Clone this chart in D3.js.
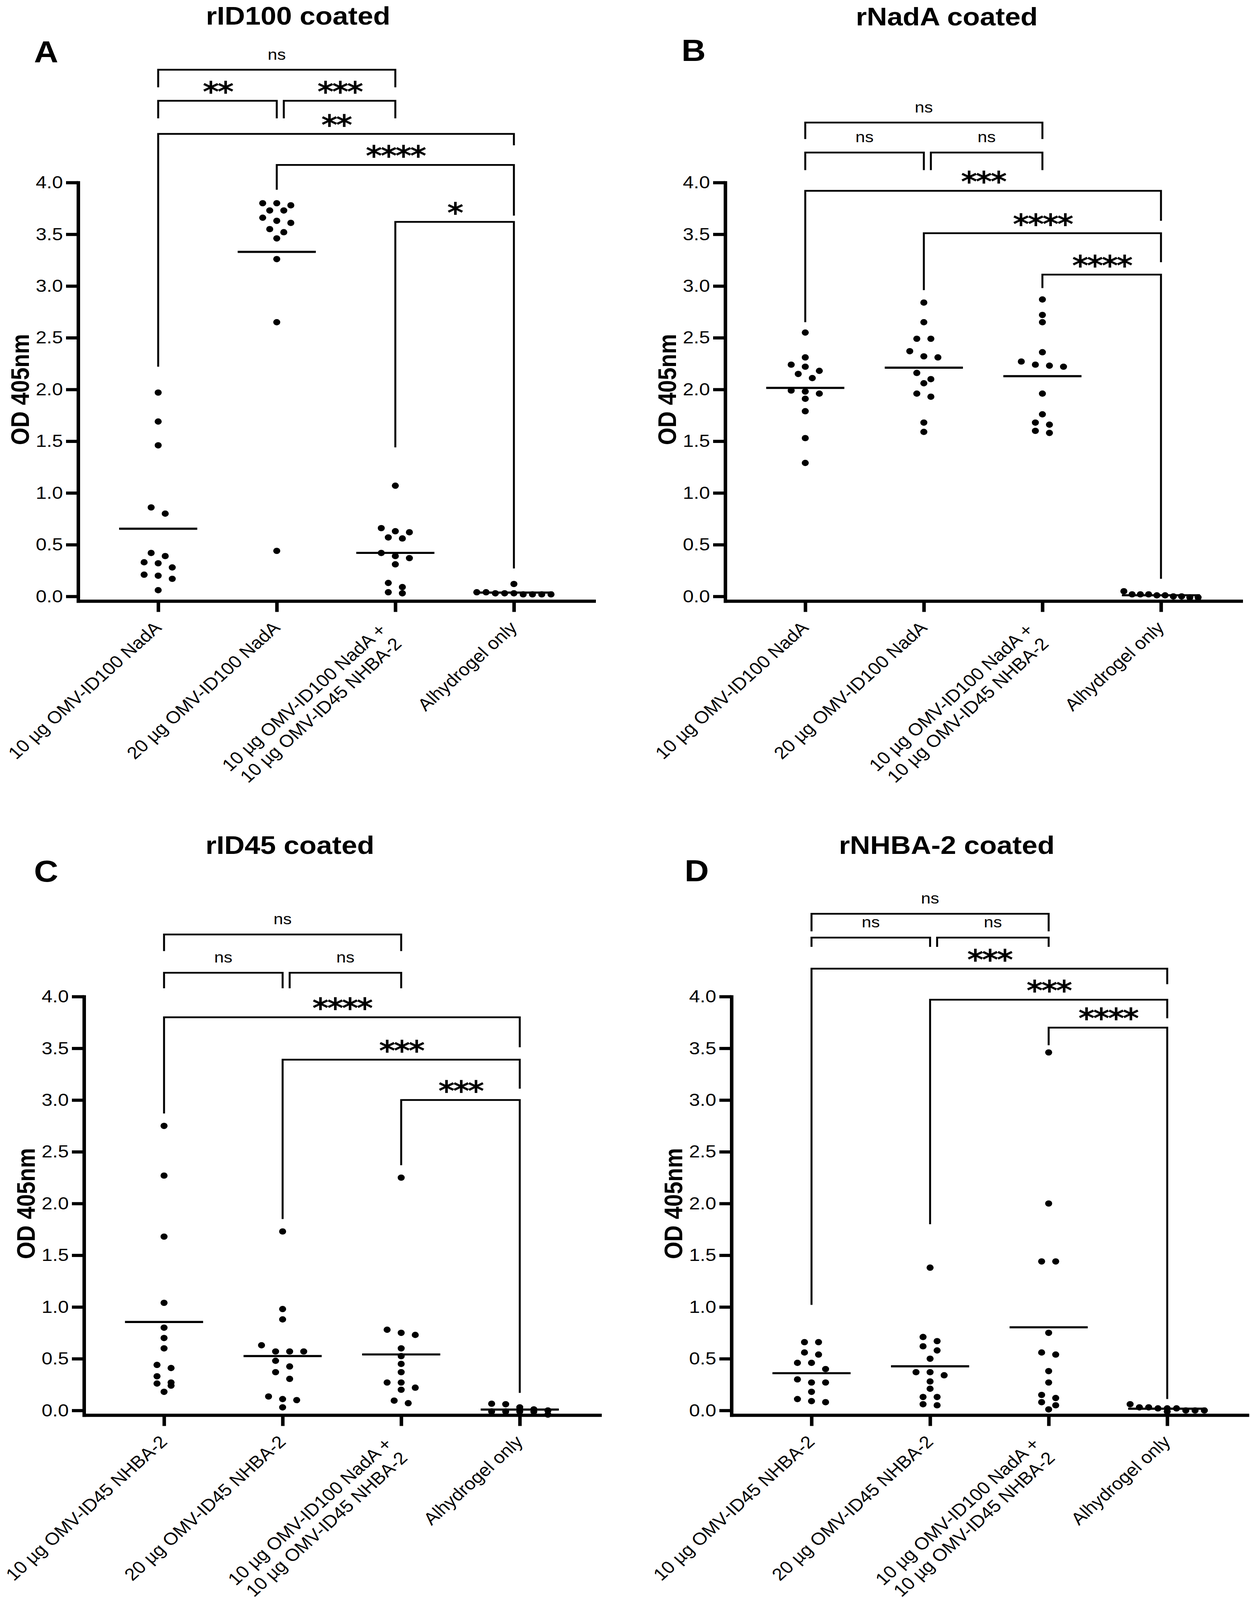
<!DOCTYPE html>
<html>
<head>
<meta charset="utf-8">
<script src="https://cdn.jsdelivr.net/npm/d3@7"></script>
<style>
  html, body { margin: 0; background: #fff; overflow: hidden; }
  svg { display: block; }
  text { font-family: "Liberation Sans", Arial, sans-serif; fill: #000; }
</style>
</head>
<body>
<svg id="chart"></svg>
<script>
// ---- data (OD 405nm) ----
const titles = ["rID100 coated", "rNadA coated", "rID45 coated", "rNHBA-2 coated"];
const letters = ["A", "B", "C", "D"];

const catsNadA = ["10 µg OMV-ID100 NadA", "20 µg OMV-ID100 NadA",
  "10 µg OMV-ID100 NadA +\n10 µg OMV-ID45 NHBA-2", "Alhydrogel only"];
const catsNHBA = ["10 µg OMV-ID45 NHBA-2", "20 µg OMV-ID45 NHBA-2",
  "10 µg OMV-ID100 NadA +\n10 µg OMV-ID45 NHBA-2", "Alhydrogel only"];

const yTicks = [0, 0.5, 1, 1.5, 2, 2.5, 3, 3.5, 4];

// panel A, rID100 coated
const A_g1 = [1.97, 1.69, 1.46, 0.86, 0.80, 0.42, 0.39, 0.33, 0.32, 0.28, 0.21, 0.20, 0.17, 0.06];
const A_g2 = [3.80, 3.80, 3.78, 3.73, 3.73, 3.66, 3.63, 3.61, 3.55, 3.52, 3.46, 3.26, 2.65, 0.44];
const A_g3 = [1.07, 0.66, 0.63, 0.62, 0.57, 0.56, 0.42, 0.39, 0.37, 0.31, 0.13, 0.09, 0.04, 0.03];
const A_g4 = [0.12, 0.04, 0.04, 0.03, 0.03, 0.03, 0.02, 0.02, 0.02, 0.02];

// panel B, rNadA coated
const B_g1 = [2.55, 2.31, 2.24, 2.22, 2.18, 2.15, 2.11, 1.99, 1.98, 1.96, 1.91, 1.79, 1.53, 1.29];
const B_g2 = [2.84, 2.65, 2.49, 2.49, 2.37, 2.32, 2.31, 2.16, 2.10, 2.06, 1.96, 1.93, 1.68, 1.59];
const B_g3 = [2.87, 2.72, 2.65, 2.36, 2.27, 2.24, 2.23, 2.22, 1.96, 1.76, 1.68, 1.66, 1.60, 1.58];
const B_g4 = [0.05, 0.02, 0.02, 0.01, 0.02, 0.01, 0.00, -0.01, 0.00, -0.01];

// panel C, rID45 coated
const C_g1 = [2.75, 2.27, 1.68, 1.04, 0.80, 0.70, 0.60, 0.44, 0.41, 0.33, 0.27, 0.26, 0.24, 0.18];
const C_g2 = [1.73, 0.98, 0.88, 0.63, 0.57, 0.57, 0.57, 0.48, 0.425, 0.37, 0.305, 0.135, 0.11, 0.10, 0.03];
const C_g3 = [2.25, 0.78, 0.75, 0.73, 0.60, 0.525, 0.45, 0.37, 0.27, 0.27, 0.22, 0.20, 0.095, 0.07];
const C_g4 = [0.06, 0.065, 0.03, 0.01, 0.00, -0.01, -0.01, -0.01, -0.01, -0.04];

// panel D, rNHBA-2 coated
const D_g1 = [0.66, 0.66, 0.56, 0.54, 0.46, 0.46, 0.40, 0.30, 0.27, 0.27, 0.18, 0.11, 0.09, 0.08];
const D_g2 = [1.38, 0.71, 0.67, 0.62, 0.58, 0.50, 0.37, 0.37, 0.34, 0.28, 0.21, 0.13, 0.13, 0.06, 0.05];
const D_g3 = [3.46, 2.00, 1.44, 1.44, 0.75, 0.56, 0.54, 0.38, 0.27, 0.15, 0.12, 0.08, 0.05, 0.01];
const D_g4 = [0.06, 0.03, 0.02, 0.02, 0.02, 0.03, 0.00, 0.00, -0.01, 0.00];

// comparisons: [group a, group b, label, bar level, leg end at a, leg end at b] (OD units)
const A_sig = [[0, 2, "ns", 5.09, 4.92, 4.92], [0, 1, "**", 4.79, 4.62, 4.62], [1, 2, "***", 4.79, 4.62, 4.62],
  [0, 3, "**", 4.47, 2.22, 4.36], [1, 3, "****", 4.17, 3.93, 3.68], [2, 3, "*", 3.62, 1.44, 0.27]];
const B_sig = [[0, 2, "ns", 4.58, 4.42, 4.42], [0, 1, "ns", 4.29, 4.12, 4.12], [1, 2, "ns", 4.29, 4.12, 4.12],
  [0, 3, "***", 3.92, 2.65, 3.63], [1, 3, "****", 3.51, 2.96, 3.23], [2, 3, "****", 3.11, 2.98, 0.17]];
const C_sig = [[0, 2, "ns", 4.60, 4.44, 4.44], [0, 1, "ns", 4.23, 4.08, 4.08], [1, 2, "ns", 4.23, 4.08, 4.08],
  [0, 3, "****", 3.80, 2.87, 3.51], [1, 3, "***", 3.39, 1.85, 3.11], [2, 3, "***", 3.00, 2.37, 0.17]];
const D_sig = [[0, 2, "ns", 4.80, 4.63, 4.63], [0, 1, "ns", 4.57, 4.48, 4.48], [1, 2, "ns", 4.57, 4.48, 4.48],
  [0, 3, "***", 4.27, 1.02, 4.12], [1, 3, "***", 3.97, 1.80, 3.79], [2, 3, "****", 3.70, 3.53, 0.11]];

// ---- layout (figure units, 3199 x 4558) ----
const W = 3199, H = 4558;
const panels = [
  { groups: [A_g1, A_g2, A_g3, A_g4], cats: catsNadA, sig: A_sig,
    ox: 200, y4: 520, y0: 1699, titleX: 763, titleY: 70, letterX: 87, letterY: 178 },
  { groups: [B_g1, B_g2, B_g3, B_g4], cats: catsNadA, sig: B_sig,
    ox: 1856, y4: 520, y0: 1699, titleX: 2423, titleY: 72, letterX: 1744, letterY: 174 },
  { groups: [C_g1, C_g2, C_g3, C_g4], cats: catsNHBA, sig: C_sig,
    ox: 215, y4: 2839, y0: 4018, titleX: 742, titleY: 2433, letterX: 87, letterY: 2512 },
  { groups: [D_g1, D_g2, D_g3, D_g4], cats: catsNHBA, sig: D_sig,
    ox: 1872, y4: 2839, y0: 4018, titleX: 2423, titleY: 2433, letterX: 1752, letterY: 2510 }
];

const axisW = 1320, dotR = 9, colStep = 36, maxSpread = 190, rowH = 20;

// the window may be shorter than the figure: fit the whole figure into it
const svg = d3.select("#chart")
  .attr("width", window.innerWidth || W)
  .attr("height", window.innerHeight || H)
  .attr("viewBox", `0 0 ${W} ${H}`)
  .attr("preserveAspectRatio", "none");
svg.append("rect").attr("width", W).attr("height", H).attr("fill", "#fff");

// place points of one group in rows, spread sideways like Prism does
function swarm(vals, y, cx) {
  const pts = vals.map(v => ({ v: v, py: y(v) })).sort((a, b) => b.v - a.v);
  const rows = [];
  let cur = null;
  pts.forEach(p => {
    if (!cur || p.py - cur.top > rowH) { cur = { top: p.py, pts: [] }; rows.push(cur); }
    cur.pts.push(p);
  });
  rows.forEach(r => {
    const k = r.pts.length;
    const step = k > 1 ? Math.min(colStep, maxSpread / (k - 1)) : 0;
    r.pts.forEach((p, i) => { p.px = cx + (i - (k - 1) / 2) * step; });
  });
  return pts;
}

panels.forEach((P, pi) => {
  const g = svg.append("g");
  const unit = (P.y0 - P.y4) / 4;
  const y = d3.scaleLinear().domain([-0.045, 4]).range([P.y0 + 0.045 * unit, P.y4]);
  const x = d3.scalePoint().domain(d3.range(4)).range([P.ox, P.ox + axisW]).padding(0.675);
  const axisY = y(-0.045);

  // titles
  g.append("text").attr("x", P.titleX).attr("y", P.titleY).attr("text-anchor", "middle")
    .attr("font-size", 72).attr("font-weight", "bold").text(titles[pi]);
  g.append("text").attr("x", P.letterX).attr("y", P.letterY)
    .attr("font-size", 86).attr("font-weight", "bold").text(letters[pi]);

  // y axis
  const ya = g.append("g").attr("transform", `translate(${P.ox},0)`)
    .call(d3.axisLeft(y).tickValues(yTicks).tickFormat(d3.format(".1f"))
      .tickSize(31).tickSizeOuter(0).tickPadding(8));
  ya.select(".domain").attr("stroke-width", 9).attr("stroke-linecap", "square");
  ya.selectAll(".tick line").attr("stroke-width", 9);
  ya.selectAll(".tick text").attr("font-size", 50).attr("font-family", "Liberation Sans, Arial, sans-serif");

  g.append("text")
    .attr("transform", `translate(${P.ox - 126},${(P.y0 + P.y4) / 2}) rotate(-90)`)
    .attr("text-anchor", "middle").attr("font-size", 64).attr("font-weight", "bold")
    .text("OD 405nm");

  // x axis
  const xa = g.append("g").attr("transform", `translate(0,${axisY})`)
    .call(d3.axisBottom(x).tickSize(31).tickSizeOuter(0).tickFormat(""));
  xa.select(".domain").attr("stroke-width", 9).attr("stroke-linecap", "square");
  xa.selectAll(".tick line").attr("stroke-width", 9);

  // rotated category labels
  P.cats.forEach((c, i) => {
    const lines = c.split("\n");
    const t = g.append("text")
      .attr("transform", `translate(${x(i) + 11},${axisY + 79}) rotate(-45)`)
      .attr("text-anchor", "end").attr("font-size", 49);
    if (lines.length === 1) {
      t.text(c);
    } else {
      lines.forEach((l, j) => {
        t.append("tspan").attr("x", -27).attr("y", j === 0 ? -18 : 38).text(l);
      });
    }
  });

  // significance brackets
  P.sig.forEach(s => {
    const [a, b, label, top, la, lb] = s;
    const joined = P.sig.some(o => o !== s && o[1] === a && Math.abs(o[3] - top) < 0.05);
    const x1 = x(a) + (joined ? 18 : 0), x2 = x(b);
    g.append("path")
      .attr("d", `M${x1},${y(la)}V${y(top)}H${x2}V${y(lb)}`)
      .attr("fill", "none").attr("stroke", "#000").attr("stroke-width", 5);
    const lt = g.append("text").attr("x", (x1 + x2) / 2).attr("text-anchor", "middle").text(label);
    if (label === "ns") {
      lt.attr("y", y(top) - 29).attr("font-size", 44);
    } else {
      lt.attr("y", y(top) + 2).attr("font-size", 80).attr("font-weight", "bold")
        .attr("letter-spacing", -4).style("font-family", "DejaVu Sans, sans-serif");
    }
  });

  // mean lines and dots
  P.groups.forEach((vals, i) => {
    const cx = x(i);
    g.append("line").attr("x1", cx - 100).attr("x2", cx + 100)
      .attr("y1", y(d3.mean(vals))).attr("y2", y(d3.mean(vals)))
      .attr("stroke", "#000").attr("stroke-width", 6);
    g.selectAll(null).data(swarm(vals, y, cx)).enter().append("circle")
      .attr("cx", d => d.px).attr("cy", d => d.py).attr("r", dotR).attr("fill", "#000");
  });
});
</script>
</body>
</html>
